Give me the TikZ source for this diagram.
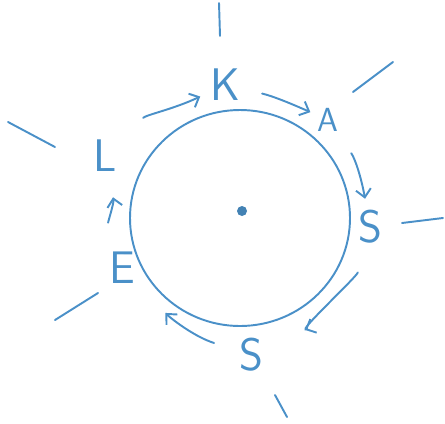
\documentclass[tikz,border=0pt]{standalone}
\usetikzlibrary{arrows.meta}
\definecolor{pen}{RGB}{74,144,200}
\tikzset{
  ink/.style={draw=pen,line width=1.1pt,line cap=round},
  letter/.style={text=pen,inner sep=0pt,font=\fontsize{26}{30}\selectfont\sffamily},
  small letter/.style={letter,font=\fontsize{19}{22}\selectfont\sffamily},
}
\begin{document}
\begin{tikzpicture}[x=0.02cm,y=-0.02cm,>={Straight Barb[length=1.6mm,width=3mm]}]
\useasboundingbox (0,0) rectangle (445,423);
\draw[ink] (240,218) ellipse [x radius=110, y radius=108];
\node[circle,fill=pen!90!black,inner sep=0pt,minimum size=0.2cm] (mid) at (242,211) {};
\node[letter] (k) at (225,85) {K};
\node[small letter] (a) at (328,120) {A};
\node[letter] (s1) at (370,227) {S};
\node[letter] (s2) at (251,355) {S};
\node[letter] (e) at (122,268) {E};
\node[letter] (l) at (105,156) {L};
\draw[ink,->,shorten <=0.74cm,shorten >=0.21cm] (l) to[out=45,in=205] (k);
\draw[ink,->,shorten <=0.45cm,shorten >=0.15cm] (k) to[out=-13,in=156] (a);
\draw[ink,->,shorten <=0.52cm,shorten >=0.23cm] (a) to[out=-55,in=100] (s1);
\draw[ink,->,shorten <=0.59cm,shorten >=0.92cm] (s1) to[out=255,in=25,looseness=0.6] (s2);
\draw[ink,->,shorten <=0.52cm,shorten >=0.87cm] (s2) to[out=162,in=-46] (e);
\draw[ink,->,shorten <=0.61cm,shorten >=0.51cm] (e) to[out=107,in=-79] (l);
% rays
\draw[ink] (219,3) -- (220,36);
\draw[ink] (353,92) -- (393,62);
\draw[ink] (402,223) -- (443,218);
\draw[ink] (275,395) -- (287,417);
\draw[ink] (98,293) -- (55,320);
\draw[ink] (8,122) -- (55,147);
\end{tikzpicture}
\end{document}
